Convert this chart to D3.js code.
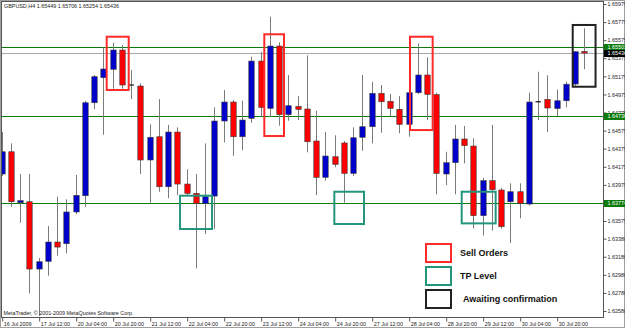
<!DOCTYPE html>
<html>
<head>
<meta charset="utf-8">
<script src="https://cdn.jsdelivr.net/npm/d3@7"></script>
<style>
  body { margin: 0; background: #fff; }
  svg { display: block; }
  text { font-family: "Liberation Sans", Arial, sans-serif; }
</style>
</head>
<body>
<div id="chart"></div>
<script>
// GBPUSD H4 candles, 16 Jul 2009 20:00 onwards
const opens = [1.64095, 1.64341, 1.63777, 1.63788, 1.63044, 1.63129, 1.63343, 1.63324, 1.63675, 1.63855,
  1.64883, 1.65160, 1.65253, 1.65466, 1.65079, 1.65068, 1.64250, 1.64507, 1.63954, 1.64559,
  1.63984, 1.63881, 1.63771, 1.63851, 1.64681, 1.64891, 1.64507, 1.64711, 1.65344, 1.64821,
  1.65510, 1.64751, 1.64843, 1.64814, 1.64460, 1.64058, 1.64286, 1.64438, 1.64102, 1.64501,
  1.64618, 1.64987, 1.64899, 1.64810, 1.64644, 1.64994, 1.65190, 1.64972, 1.64095, 1.64220,
  1.64482, 1.64404, 1.63634, 1.64021, 1.63918, 1.63788, 1.63899, 1.63763, 1.64894, 1.64921,
  1.64819, 1.64905, 1.65090, 1.65449];
const highs = [1.64559, 1.64434, 1.64095, 1.64095, 1.63166, 1.63520, 1.63844, 1.63815, 1.64084, 1.64902,
  1.65190, 1.65496, 1.65547, 1.65521, 1.65245, 1.65098, 1.64644, 1.64924, 1.64637, 1.64611,
  1.64147, 1.64095, 1.64434, 1.64832, 1.65024, 1.64913, 1.64905, 1.65392, 1.65447, 1.65834,
  1.65551, 1.65190, 1.64957, 1.65407, 1.64795, 1.64559, 1.64523, 1.64460, 1.64611, 1.65190,
  1.65115, 1.65079, 1.64980, 1.64957, 1.65024, 1.65540, 1.65385, 1.64994, 1.64341, 1.64637,
  1.64626, 1.64490, 1.64051, 1.64637, 1.63940, 1.63992, 1.63992, 1.64994, 1.65226, 1.65186,
  1.65029, 1.65115, 1.65455, 1.65706];
const lows = [1.64073, 1.63733, 1.63556, 1.62775, 1.62524, 1.62970, 1.63191, 1.63218, 1.63652, 1.63733,
  1.64810, 1.64529, 1.65038, 1.65038, 1.64924, 1.64095, 1.63777, 1.63899, 1.63826, 1.63862,
  1.63855, 1.63052, 1.63431, 1.63487, 1.64445, 1.64297, 1.64357, 1.64662, 1.64728, 1.64728,
  1.64629, 1.64684, 1.64692, 1.64335, 1.63862, 1.64021, 1.64169, 1.63777, 1.64073, 1.64352,
  1.64434, 1.64551, 1.64736, 1.64545, 1.64507, 1.64980, 1.64692, 1.63870, 1.63973, 1.63870,
  1.64213, 1.63494, 1.63415, 1.63468, 1.63492, 1.63332, 1.63605, 1.63746, 1.64692, 1.64559,
  1.64736, 1.64832, 1.65060, 1.65254];
const closes = [1.64341, 1.63788, 1.63800, 1.63044, 1.63125, 1.63343, 1.63287, 1.63675, 1.63859, 1.64883,
  1.65171, 1.65256, 1.65466, 1.65079, 1.65079, 1.64250, 1.64501, 1.63954, 1.64559, 1.63984,
  1.63881, 1.63771, 1.63844, 1.64681, 1.64891, 1.64507, 1.64692, 1.65344, 1.64832, 1.65510,
  1.64751, 1.64850, 1.64810, 1.64452, 1.64058, 1.64294, 1.64202, 1.64102, 1.64496, 1.64618,
  1.64987, 1.64894, 1.64821, 1.64644, 1.64994, 1.65190, 1.64976, 1.64102, 1.64220, 1.64482,
  1.64408, 1.63634, 1.64021, 1.63921, 1.63512, 1.63899, 1.63771, 1.64891, 1.64894, 1.64825,
  1.64905, 1.65088, 1.65447, 1.65436];

// time axis labels, one every 4 bars
const timeLabels = ['16 Jul 2009', '17 Jul 12:00', '20 Jul 04:00', '20 Jul 20:00', '21 Jul 12:00',
  '22 Jul 04:00', '22 Jul 20:00', '23 Jul 12:00', '24 Jul 04:00', '24 Jul 20:00', '27 Jul 12:00',
  '28 Jul 04:00', '28 Jul 20:00', '29 Jul 12:00', '30 Jul 04:00', '30 Jul 20:00'];
const priceLabels = ['1.65975', '1.65775', '1.65575', '1.65375', '1.65175', '1.64975', '1.64775',
  '1.64575', '1.64375', '1.64175', '1.63975', '1.63775', '1.63575', '1.63380', '1.63180',
  '1.62980', '1.62780', '1.62580'];

// horizontal levels
const greenLevels = [1.65501, 1.64736, 1.63774];
const bidLevel = 1.65436;

// annotation boxes: bar index edges and price edges
const sellBoxes = [[11.35, 13.73, 1.65613, 1.65024], [28.39, 30.52, 1.65640, 1.64515], [44.14, 46.59, 1.65613, 1.64581]];
const tpBoxes = [[19.28, 22.74, 1.63855, 1.63487], [35.96, 39.17, 1.63899, 1.63542], [49.73, 53.40, 1.63899, 1.63549]];
const waitBoxes = [[61.73, 64.2, 1.65743, 1.65060]];

const legendItems = [
  { label: 'Sell Orders', color: '#ff2a2a' },
  { label: 'TP Level', color: '#23957c' },
  { label: 'Awaiting confirmation', color: '#222' }
];

const width = 625, height = 328;
const plot = { left: 2, right: 603, top: 2, bottom: 317 };

const svg = d3.select('#chart').append('svg')
  .attr('width', width)
  .attr('height', height);

const x = d3.scaleLinear().domain([0, 63]).range([1.7, 1.7 + 9.25 * 63]);
const y = d3.scaleLinear().domain([1.62580, 1.65975]).range([311, 4]);

svg.append('defs').append('clipPath').attr('id', 'clip')
  .append('rect')
  .attr('x', plot.left).attr('y', plot.top)
  .attr('width', plot.right - plot.left).attr('height', plot.bottom - plot.top);

// outer border
svg.append('rect')
  .attr('x', 0.5).attr('y', 0.5).attr('width', width - 1).attr('height', height - 1)
  .attr('fill', 'none').attr('stroke', '#a0a0a0');

const g = svg.append('g').attr('clip-path', 'url(#clip)');

// levels
g.selectAll('.green-level')
  .data(greenLevels)
  .enter().append('line')
  .attr('x1', plot.left).attr('x2', plot.right)
  .attr('y1', d => Math.round(y(d)) + 0.5).attr('y2', d => Math.round(y(d)) + 0.5)
  .attr('stroke', '#0a7a0a').attr('stroke-width', 1);

g.append('line')
  .attr('x1', plot.left).attr('x2', plot.right)
  .attr('y1', Math.round(y(bidLevel)) + 0.5).attr('y2', Math.round(y(bidLevel)) + 0.5)
  .attr('stroke', '#a8a8a8');

const candles = d3.range(opens.length).map(i => ({ i, o: opens[i], h: highs[i], l: lows[i], c: closes[i] }));
const bodyW = 5.4;

// wicks
g.selectAll('.wick')
  .data(candles)
  .enter().append('line')
  .attr('x1', d => Math.round(x(d.i)) + 0.5).attr('x2', d => Math.round(x(d.i)) + 0.5)
  .attr('y1', d => y(d.h)).attr('y2', d => y(d.l))
  .attr('stroke', '#7a7a7a').attr('stroke-width', 1);

// bodies
g.selectAll('.body')
  .data(candles.filter(d => d.o !== d.c))
  .enter().append('rect')
  .attr('x', d => Math.round(x(d.i)) + 0.5 - bodyW / 2)
  .attr('y', d => y(Math.max(d.o, d.c)))
  .attr('width', bodyW)
  .attr('height', d => Math.max(1.5, Math.abs(y(d.o) - y(d.c))))
  .attr('fill', d => d.c > d.o ? '#0000cc' : '#ff0000')
  .attr('stroke', '#3a3a3a').attr('stroke-width', 0.6);

// doji
g.selectAll('.doji')
  .data(candles.filter(d => d.o === d.c))
  .enter().append('line')
  .attr('x1', d => x(d.i) - bodyW / 2).attr('x2', d => x(d.i) + bodyW / 2)
  .attr('y1', d => y(d.o)).attr('y2', d => y(d.o))
  .attr('stroke', '#111').attr('stroke-width', 1.2);

// annotation boxes
function drawBoxes(list, color) {
  g.selectAll(null)
    .data(list)
    .enter().append('rect')
    .attr('x', d => x(d[0]))
    .attr('y', d => y(d[2]))
    .attr('width', d => x(d[1]) - x(d[0]))
    .attr('height', d => y(d[3]) - y(d[2]))
    .attr('fill', 'none')
    .attr('stroke', color).attr('stroke-width', 2);
}
drawBoxes(sellBoxes, legendItems[0].color);
drawBoxes(tpBoxes, legendItems[1].color);
drawBoxes(waitBoxes, legendItems[2].color);

// plot frame
svg.append('rect')
  .attr('x', plot.left - 0.5).attr('y', plot.top - 0.5)
  .attr('width', plot.right - plot.left + 1).attr('height', plot.bottom - plot.top + 1)
  .attr('fill', 'none').attr('stroke', '#555');

// header
svg.append('text')
  .attr('x', 4).attr('y', 8)
  .style('font-size', '5.4px').attr('fill', '#222')
  .text('GBPUSD,H4  1.65449 1.65706 1.65254 1.65436');

svg.append('text')
  .attr('x', 3.5).attr('y', 315)
  .style('font-size', '5.4px').attr('fill', '#222')
  .text('MetaTrader, \u00a9 2001-2009 MetaQuotes Software Corp.');

// time axis
const xAxis = svg.append('g')
  .attr('transform', `translate(0, ${plot.bottom + 0.5})`)
  .call(d3.axisBottom(x)
    .tickValues(timeLabels.map((d, k) => k * 4))
    .tickFormat(d => timeLabels[d / 4])
    .tickSize(4));
xAxis.select('.domain').remove();
xAxis.selectAll('line').attr('stroke', '#555')
  .attr('transform', function () { return 'translate(0.5,0)'; });
xAxis.selectAll('text')
  .attr('text-anchor', 'start').attr('x', 1.5).attr('y', 5)
  .style('font-size', '5.4px').attr('fill', '#222');

// price axis
const yAxis = svg.append('g')
  .attr('transform', `translate(${plot.right + 0.5}, 0)`)
  .call(d3.axisRight(y)
    .tickValues(priceLabels.map(Number))
    .tickFormat((d, k) => priceLabels[k])
    .tickSize(3));
yAxis.select('.domain').remove();
yAxis.selectAll('line').attr('stroke', '#555');
yAxis.selectAll('text')
  .attr('x', 4)
  .style('font-size', '5.4px').attr('fill', '#222');

// price tags on the right
const tags = greenLevels.map(v => ({ v, fill: '#0a7a0a' })).concat([{ v: bidLevel, fill: '#000' }]);
const tag = svg.selectAll('.tag')
  .data(tags)
  .enter().append('g')
  .attr('transform', d => `translate(${plot.right + 1}, ${Math.round(y(d.v)) + 0.5})`);
tag.append('rect')
  .attr('x', 0).attr('y', -3.5).attr('width', width - plot.right - 1).attr('height', 7)
  .attr('fill', d => d.fill);
tag.append('text')
  .attr('x', 3.5).attr('dy', '0.34em')
  .style('font-size', '5.4px').attr('fill', '#fff')
  .text(d => d.v.toFixed(5));

// legend
const legend = svg.selectAll('.legend')
  .data(legendItems)
  .enter().append('g')
  .attr('transform', (d, k) => `translate(426, ${244 + k * 23})`);
legend.append('rect')
  .attr('width', 25).attr('height', 18)
  .attr('fill', 'none')
  .attr('stroke', d => d.color).attr('stroke-width', 2);
legend.append('text')
  .attr('x', (d, k) => k === 2 ? 37 : 34).attr('y', 9).attr('dy', '0.35em')
  .style('font-size', '9px').style('font-weight', 'bold').attr('fill', '#111')
  .text(d => d.label);
</script>
</body>
</html>
